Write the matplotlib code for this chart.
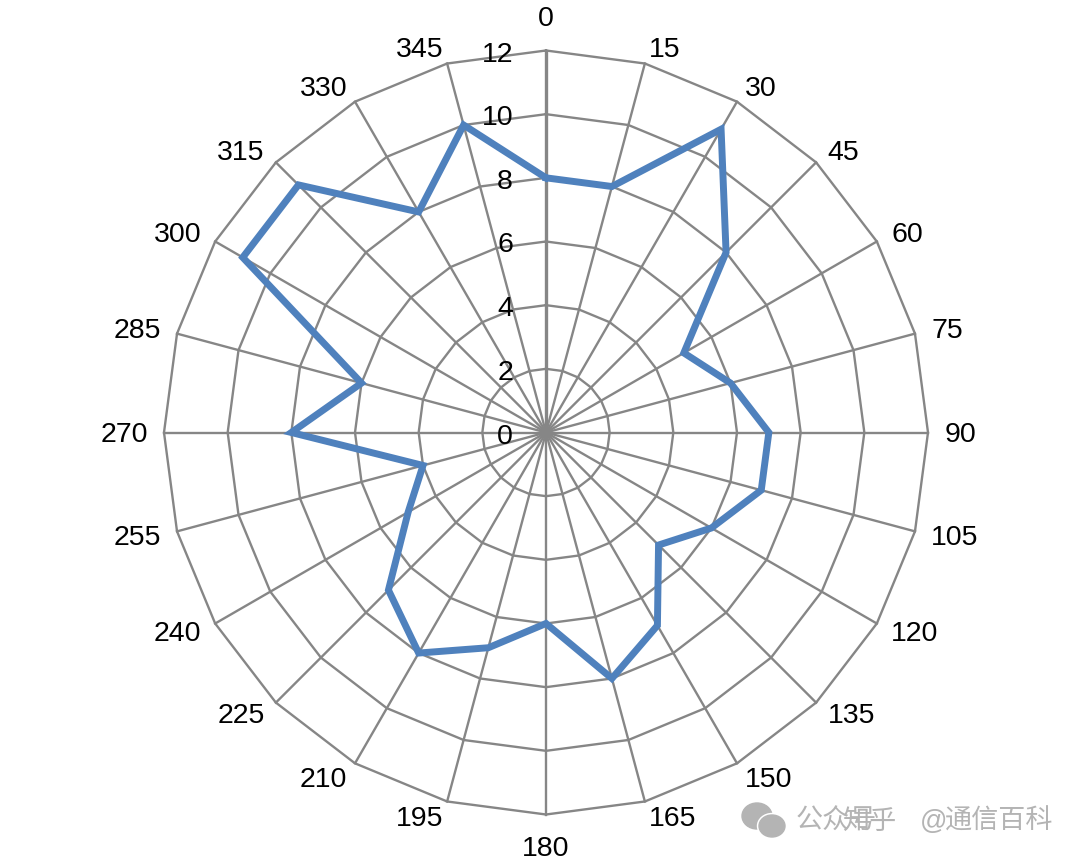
import numpy as np
import matplotlib
matplotlib.use("Agg")
import matplotlib.pyplot as plt
from matplotlib.patches import Ellipse

angles = [0, 15, 30, 45, 60, 75, 90, 105, 120, 135, 150, 165,
          180, 195, 210, 225, 240, 255, 270, 285, 300, 315, 330, 345]
values = [8, 8, 11, 8, 5, 6, 7, 7, 6, 5, 7, 8,
          6, 7, 8, 7, 5, 4, 8, 6, 11, 11, 8, 10]
rings = [2, 4, 6, 8, 10, 12]
ring_labels = ["0", "2", "4", "6", "8", "10", "12"]

W, H = 1080, 866
CX, CY, RAD = 546, 432.5, 382
GREY = "#868686"
BLUE = "#4f81bd"
PX = 0.72  # points per pixel at dpi 100

plt.rcParams["font.family"] = ["Liberation Sans", "Noto Sans CJK SC", "DejaVu Sans"]


def labelOffset(a):
    # labels sit outside the spoke end, pushed out by half their own width
    s, c = np.sin(np.deg2rad(a)), np.cos(np.deg2rad(a))
    if a % 180 == 0:
        return 0, 33 * np.sign(c) - 2
    half = 23 if a >= 100 else 15.5
    return np.sign(s) * (half + 17 * abs(s)), 16.5 * c - 2


fig = plt.figure(figsize=(W / 100, H / 100), dpi=100)
ax = fig.add_axes([(CX - RAD) / W, (H - CY - RAD) / H, 2 * RAD / W, 2 * RAD / H],
                  projection="polar")
ax.set_theta_zero_location("N")
ax.set_theta_direction(-1)
ax.set_ylim(0, 12)
ax.grid(False)
ax.set_xticks([])
ax.set_yticks([])
ax.spines["polar"].set_visible(False)
ax.patch.set_visible(False)

th = np.deg2rad(angles)
th_closed = np.append(th, th[0])

# spokes and polygon rings, straight segments between the angles
for t, a in zip(th, angles):
    ax.plot([t, t], [0, 12], color=GREY, lw=2.4 if a == 0 else 1.7, zorder=1, clip_on=False)
for r in rings:
    ax.plot(th_closed, [r] * len(th_closed), color=GREY, lw=1.7, zorder=1, clip_on=False)

ax.plot(th_closed, values + values[:1], color=BLUE, lw=5, zorder=3,
        solid_joinstyle="miter", clip_on=False)

for t, a in zip(th, angles):
    dx, dy = labelOffset(a)
    ax.annotate(str(a), xy=(t, 12), xytext=(dx * PX, dy * PX), textcoords="offset points",
                fontsize=20.5, ha="center", va="center", color="black", annotation_clip=False)

for i, lab in enumerate(ring_labels):
    ax.annotate(lab, xy=(0, i * 2), xytext=(-33 * PX, -4 * PX), textcoords="offset points",
                fontsize=20.5, ha="right", va="center", color="black", zorder=4)

# watermark, bottom right
wm = "#b4b4b4"
wx = fig.add_axes([0, 0, 1, 1], facecolor="none")
wx.set_xlim(0, W)
wx.set_ylim(H, 0)
wx.axis("off")
wx.add_patch(Ellipse((757, 816), 30, 26, color=wm))
wx.add_patch(Ellipse((772, 826), 29, 25, color="white"))
wx.add_patch(Ellipse((772, 826), 26, 22, color=wm))
wx.text(796, 822, "公众号", fontsize=19.5, color=wm, va="center", ha="left")
wx.text(842, 822, "知乎", fontsize=19.5, color=wm, va="center", ha="left")
wx.text(920, 822, "@", fontsize=19.5, color=wm, va="center", ha="left")
wx.text(945, 822, "通信百科", fontsize=19.5, color=wm, va="center", ha="left")

fig.savefig("out.png", dpi=100, facecolor="white")
